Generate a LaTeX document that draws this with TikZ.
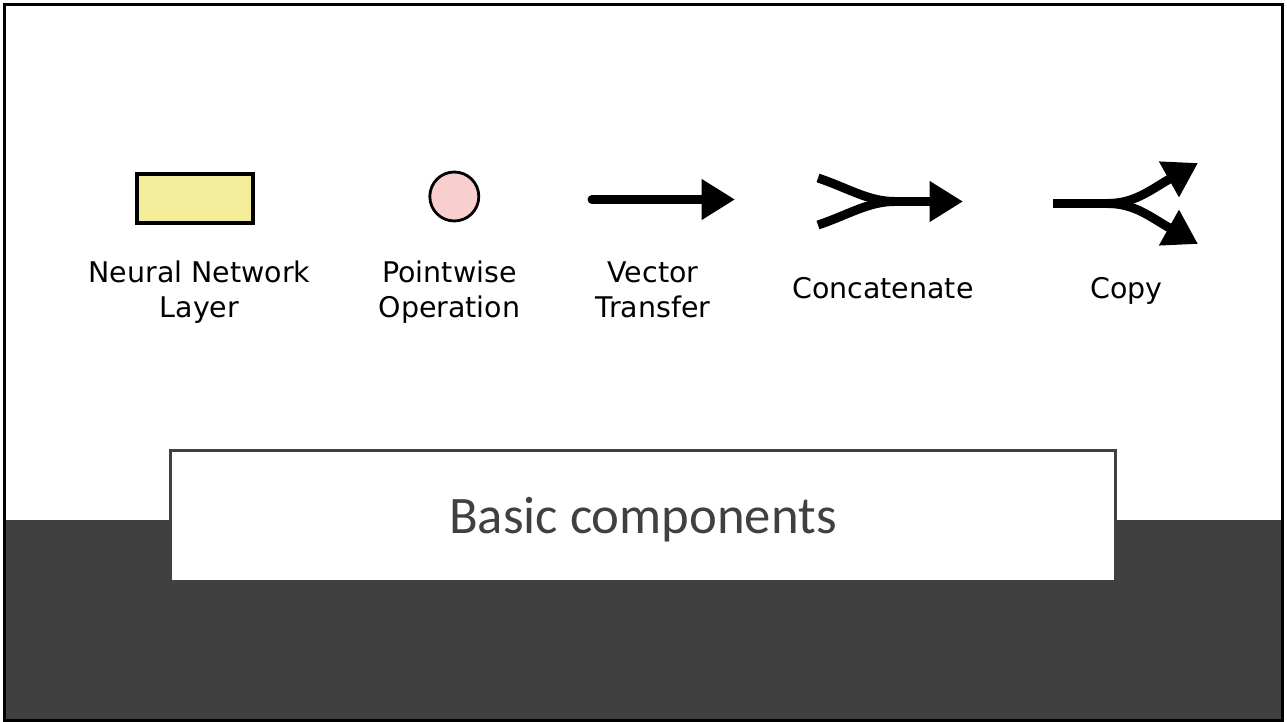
\documentclass[tikz,border=0pt]{standalone}
\usepackage{fontspec}
\usepackage{tikz}
\usetikzlibrary{arrows.meta}

\newfontfamily\labelfont{DejaVu Sans}
\newfontfamily\titlefont{Carlito}

\definecolor{layeryellow}{RGB}{243,236,155}
\definecolor{oppink}{RGB}{248,206,206}
\definecolor{slidegray}{RGB}{64,64,64}

\begin{document}
\begin{tikzpicture}[
  x=0.02cm, y=-0.02cm,
  layerbox/.style={rectangle, draw=black, line width=2.3pt, fill=layeryellow,
                   minimum width=2.32cm, minimum height=0.97cm, inner sep=0pt},
  pointop/.style={circle, draw=black, line width=1.6pt, fill=oppink,
                  minimum size=0.98cm, inner sep=0pt},
  flowline/.style={line width=5.1pt},
  flow/.style={flowline, -{Triangle[length=19pt, width=22pt]}},
  caption/.style={font=\labelfont\fontsize{16.2}{20.1}\selectfont, align=center,
                  inner sep=0pt, anchor=base},
  titlebox/.style={rectangle, draw=slidegray, line width=1.8pt, fill=white,
                   minimum width=18.9cm, minimum height=2.62cm, inner sep=0pt},
  titletext/.style={font=\titlefont\fontsize{30}{36}\selectfont, text=slidegray,
                    inner sep=0pt, anchor=base}
]
\useasboundingbox (0,0) rectangle (1287,722);

% Slide background and dark footer band
\fill[white] (0,0) rectangle (1287,722);
\fill[slidegray] (4.5,520) rectangle (1282.5,720.5);
\draw[black, line width=1.4pt] (4.5,4.5) rectangle (1282.5,720.5);

% Neural network layer
\node[layerbox] (layer) at (195,198.7) {};
\node[caption] (lbl-layer) at (199.5,317.7) {Neural Network\\Layer};

% Pointwise operation
\node[pointop] (op) at (454.3,196.5) {};
\node[caption] (lbl-op) at (449.5,317.7) {Pointwise\\Operation};

% Vector transfer
\coordinate (vec-in) at (592,199.5);
\coordinate (vec-out) at (735,199.5);
\draw[flow, line cap=round] (vec-in) -- (vec-out);
\node[caption] (lbl-vec) at (653,317.7) {Vector\\Transfer};

% Concatenate
\coordinate (cat-a) at (818,178);
\coordinate (cat-b) at (818,225);
\coordinate (cat-j) at (895,201.5);
\coordinate (cat-out) at (963,201.5);
\draw[flowline] (cat-a) .. controls (848,188) and (868,201.5) .. (cat-j);
\draw[flowline] (cat-b) .. controls (848,215) and (868,201.5) .. (cat-j);
\draw[flow] (cat-j) -- (cat-out);
\node[caption] (lbl-cat) at (883,298.3) {Concatenate};

% Copy
\coordinate (copy-in) at (1053,203.5);
\coordinate (copy-j) at (1107,203.5);
\coordinate (copy-a) at (1198,163);
\coordinate (copy-b) at (1198,244);
\draw[flowline] (copy-in) -- (copy-j);
\draw[flow] (copy-j) .. controls (1135,203.5) and (1150,190) .. (copy-a);
\draw[flow] (copy-j) .. controls (1135,203.5) and (1150,217) .. (copy-b);
\node[caption] (lbl-copy) at (1126.7,298.3) {Copy};

% Title
\node[titlebox] (titlebox) at (643,516) {};
\node[titletext] (title) at (643,533) {Basic components};

\end{tikzpicture}
\end{document}
